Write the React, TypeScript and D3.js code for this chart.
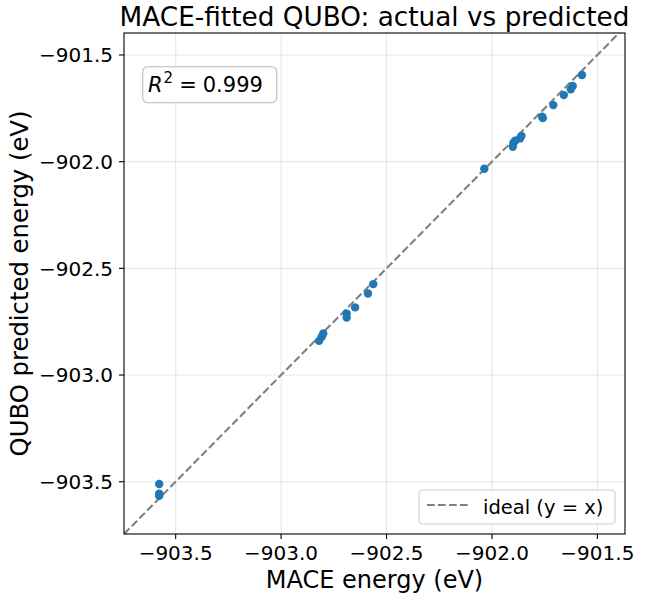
import * as d3 from 'd3';

const W = 648;
const H = 601;

// MACE energy (x) vs QUBO predicted energy (y), eV
const maceEnergy = [
  -901.573, -901.617, -901.626, -901.659, -901.709, -901.762, -901.759,
  -901.86, -901.867, -901.89, -901.898, -901.901, -902.036,
  -902.563, -902.588, -902.649, -902.689, -902.689, -902.8, -902.807,
  -902.82, -903.578, -903.578, -903.578,
];
const quboEnergy = [
  -901.594, -901.645, -901.661, -901.688, -901.735, -901.789, -901.796,
  -901.879, -901.891, -901.902, -901.911, -901.93, -902.033,
  -902.574, -902.618, -902.683, -902.712, -902.73, -902.805, -902.821,
  -902.84, -903.511, -903.556, -903.566,
];
const xTicks = [-903.5, -903.0, -902.5, -902.0, -901.5];
const yTicks = [-903.5, -903.0, -902.5, -902.0, -901.5];
const xDomain = [-903.745, -901.369];
const yDomain = [-903.745, -901.397];
const r2Text = '0.999';

const font = 'DejaVu Sans, sans-serif';
const fmt = (v: number) => v.toFixed(1).replace('-', '\u2212');

export default function App() {
  const left = 124;
  const right = 625;
  const top = 33;
  const bottom = 534;

  const x = d3.scaleLinear().domain(xDomain).range([left, right]);
  const y = d3.scaleLinear().domain(yDomain).range([bottom, top]);

  const lo = Math.min(xDomain[0], yDomain[0]);
  const hi = Math.max(xDomain[1], yDomain[1]);
  const ideal = d3
    .line<number>()
    .x((d) => x(d))
    .y((d) => y(d))([lo, hi]);

  return (
    <svg width={W} height={H} style={{ position: 'absolute', left: 0, top: 0 }}>
      <rect width={W} height={H} fill='#fff' />
      <defs>
        <clipPath id='plot'>
          <rect x={left} y={top} width={right - left} height={bottom - top} />
        </clipPath>
      </defs>

      {/* grid */}
      {xTicks.map((t) => (
        <line key={'gx' + t} x1={x(t)} x2={x(t)} y1={top} y2={bottom} stroke='#b0b0b0' strokeOpacity={0.3} strokeWidth={1.1} />
      ))}
      {yTicks.map((t) => (
        <line key={'gy' + t} x1={left} x2={right} y1={y(t)} y2={y(t)} stroke='#b0b0b0' strokeOpacity={0.3} strokeWidth={1.1} />
      ))}

      {/* ideal line */}
      <path
        d={ideal ?? ''}
        stroke='#808080'
        strokeWidth={2.1}
        strokeDasharray='7.7 3.3'
        fill='none'
        clipPath='url(#plot)'
      />

      {/* points */}
      <g clipPath='url(#plot)'>
        {maceEnergy.map((v, i) => (
          <circle key={i} cx={x(v)} cy={y(quboEnergy[i])} r={4.2} fill='#1f77b4' />
        ))}
      </g>

      {/* spines */}
      <rect x={left} y={top} width={right - left} height={bottom - top} fill='none' stroke='#000' strokeWidth={1.1} />

      {/* x axis */}
      {xTicks.map((t) => (
        <g key={'tx' + t}>
          <line x1={x(t)} x2={x(t)} y1={bottom} y2={bottom + 5} stroke='#000' strokeWidth={1.1} />
          <text x={x(t)} y={560} textAnchor='middle' fontFamily={font} fontSize={20}>
            {fmt(t)}
          </text>
        </g>
      ))}
      {/* y axis */}
      {yTicks.map((t) => (
        <g key={'ty' + t}>
          <line x1={left - 5} x2={left} y1={y(t)} y2={y(t)} stroke='#000' strokeWidth={1.1} />
          <text x={113} y={y(t)} dy='0.36em' textAnchor='end' fontFamily={font} fontSize={20}>
            {fmt(t)}
          </text>
        </g>
      ))}

      <text x={(left + right) / 2} y={588} textAnchor='middle' fontFamily={font} fontSize={24}>
        MACE energy (eV)
      </text>
      <text
        transform={`translate(28,${(top + bottom) / 2}) rotate(-90)`}
        textAnchor='middle'
        fontFamily={font}
        fontSize={24.3}
      >
        QUBO predicted energy (eV)
      </text>
      <text x={(left + right) / 2} y={26} textAnchor='middle' fontFamily={font} fontSize={26.3}>
        MACE-fitted QUBO: actual vs predicted
      </text>

      {/* R^2 box */}
      <rect x={142.7} y={66.7} width={134} height={36} rx={5} fill='#fff' stroke='#bbbbbb' strokeWidth={1.1} />
      <text x={148} y={92} fontFamily={font} fontSize={21}>
        <tspan fontStyle='italic'>R</tspan>
        <tspan dx={1} dy={-9} fontSize={15}>2</tspan>
        <tspan dx={6} dy={9}>=</tspan>
        <tspan dx={6}>{r2Text}</tspan>
      </text>

      {/* legend */}
      <rect x={419} y={490} width={196} height={34} rx={4} fill='#fff' fillOpacity={0.8} stroke='#cccccc' strokeWidth={1.1} />
      <line x1={427} x2={468} y1={505} y2={505} stroke='#808080' strokeWidth={2.1} strokeDasharray='7.7 3.3' />
      <text x={483} y={514} fontFamily={font} fontSize={19.5}>
        ideal (y = x)
      </text>
    </svg>
  );
}
